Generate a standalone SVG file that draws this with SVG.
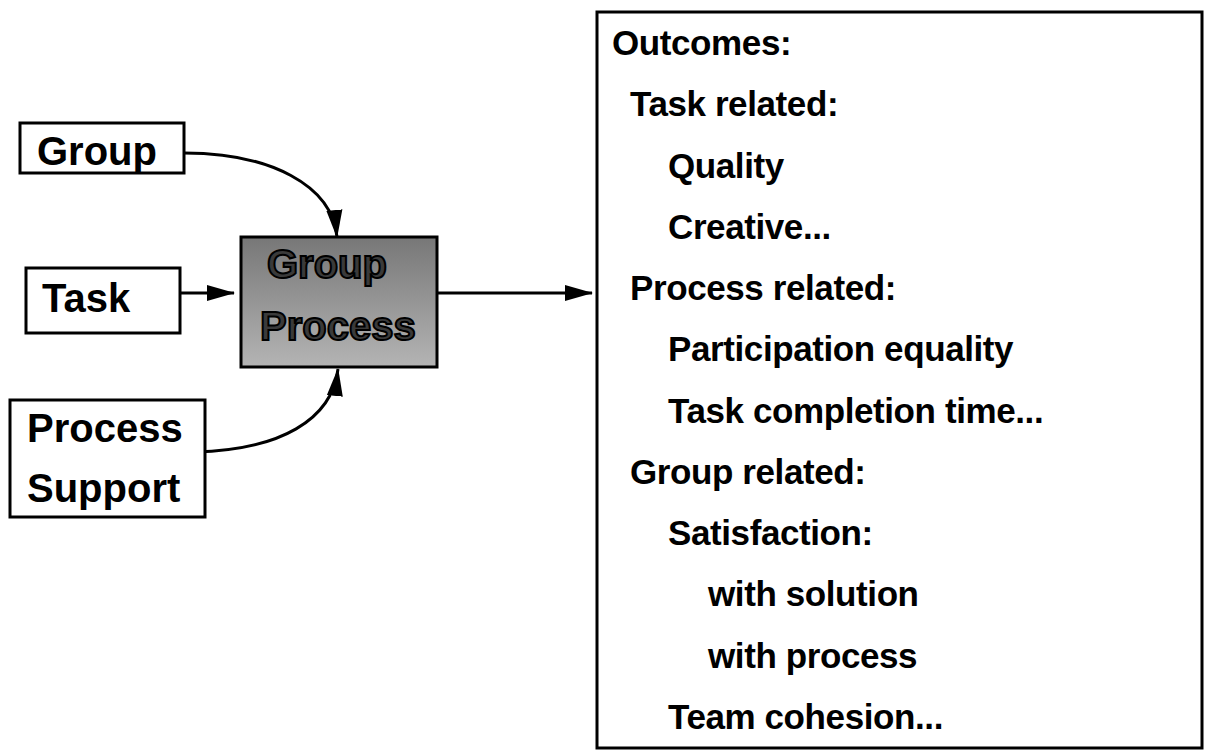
<svg xmlns="http://www.w3.org/2000/svg" width="1210" height="752" viewBox="0 0 1210 752">
<style>
.box{fill:#fff;stroke:#000;stroke-width:3}
.t{font-family:"Liberation Sans",Arial,sans-serif;font-weight:bold;fill:#000}
.lt{font-size:40px}
.rt{font-size:35px;letter-spacing:-0.4px}
.gp{font-family:"Liberation Sans",Arial,sans-serif;font-weight:bold;font-size:40px;fill:#3a3a3a;stroke:#000;stroke-width:2}
.c{fill:none;stroke:#000;stroke-width:3}
</style>
<defs>
<marker id="ah" viewBox="0 0 28 18" refX="27" refY="9" markerWidth="28" markerHeight="18" markerUnits="userSpaceOnUse" orient="auto">
<path d="M0,1 L28,9 L0,17 Z" fill="#000"/>
</marker>
<linearGradient id="gg" x1="0" y1="0" x2="0" y2="1">
<stop offset="0" stop-color="#777"/>
<stop offset="1" stop-color="#b4b4b4"/>
</linearGradient>
</defs>
<rect width="1210" height="752" fill="#fff"/>
<g id="connectors">
<path class="c" d="M184,153 C270,153 332,185 337,237" marker-end="url(#ah)"/>
<path class="c" d="M180,293 L234,293" marker-end="url(#ah)"/>
<path class="c" d="M195,452 C280,450 332,420 338,369" marker-end="url(#ah)"/>
<path class="c" d="M437,293 L592,293" marker-end="url(#ah)"/>
</g>
<g id="group">
<rect class="box" x="20" y="123" width="164" height="50"/>
<text class="t lt" x="37" y="165">Group</text>
</g>
<g id="task">
<rect class="box" x="26" y="268" width="154" height="65"/>
<text class="t lt" x="42" y="312">Task</text>
</g>
<g id="process-support">
<rect class="box" x="10" y="400" width="195" height="117"/>
<text class="t lt" x="27" y="442">Process</text>
<text class="t lt" x="27" y="502">Support</text>
</g>
<g id="group-process">
<rect x="241" y="237" width="196" height="130" fill="url(#gg)" stroke="#000" stroke-width="3"/>
<text class="gp" x="267" y="278">Group</text>
<text class="gp" x="260" y="340">Process</text>
</g>
<g id="outcomes">
<rect class="box" x="597" y="12" width="605" height="736"/>
<text class="t rt" x="612" y="55">Outcomes:</text>
<text class="t rt" x="630" y="116">Task related:</text>
<text class="t rt" x="668" y="178">Quality</text>
<text class="t rt" x="668" y="239">Creative...</text>
<text class="t rt" x="630" y="300">Process related:</text>
<text class="t rt" x="668" y="361">Participation equality</text>
<text class="t rt" x="668" y="423">Task completion time...</text>
<text class="t rt" x="630" y="484">Group related:</text>
<text class="t rt" x="668" y="545">Satisfaction:</text>
<text class="t rt" x="708" y="606">with solution</text>
<text class="t rt" x="708" y="668">with process</text>
<text class="t rt" x="668" y="729">Team cohesion...</text>
</g>
</svg>
